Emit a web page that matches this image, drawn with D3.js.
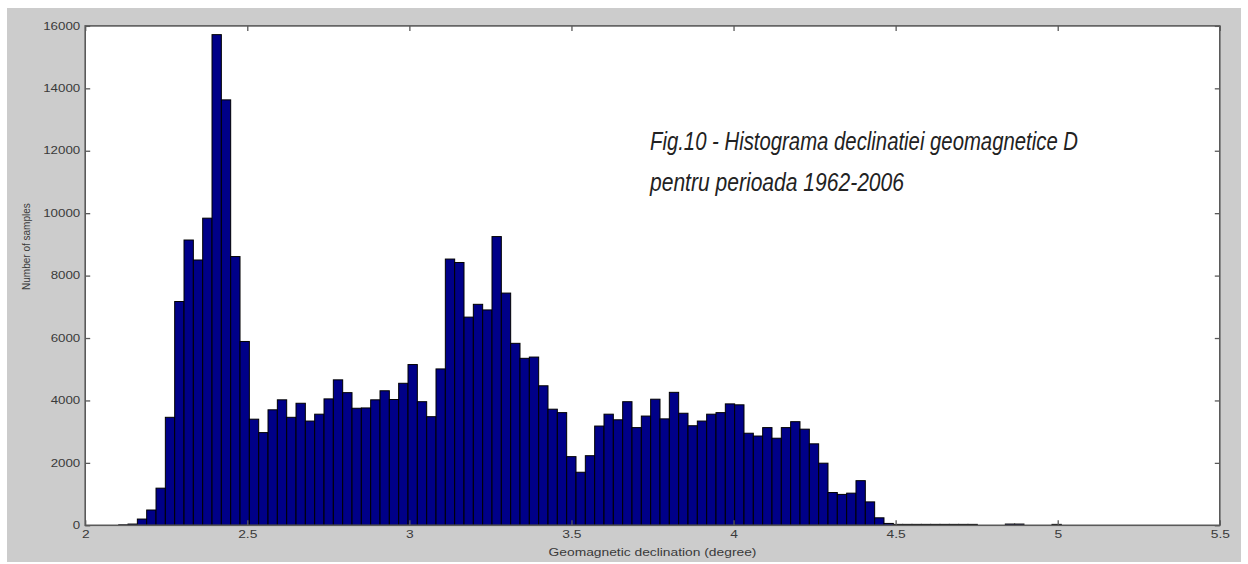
<!DOCTYPE html>
<html>
<head>
<meta charset="utf-8">
<script src="https://cdn.jsdelivr.net/npm/d3@7/dist/d3.min.js"></script>
<style>
  html, body { margin: 0; padding: 0; background: #ffffff; }
  svg { display: block; }
  .tick text { font-family: "Liberation Sans", Arial, sans-serif; }
</style>
</head>
<body>
<svg id="chart" width="1248" height="564"></svg>
<script>
// Histogram bins: first bin edge and bin width, in degrees
const binStart = 2.1033;
const binWidth = 0.02879;

// Number of samples per bin
const counts = [
  15, 40, 200, 490, 1190, 3460, 7170, 9140, 8500, 9840,
  15720, 13630, 8610, 5890, 3400, 2970, 3700, 4020, 3460, 3910,
  3340, 3560, 4050, 4660, 4250, 3750, 3760, 4020, 4310, 4030,
  4550, 5150, 3960, 3480, 5010, 8530, 8420, 6670, 7080, 6900,
  9250, 7440, 5830, 5350, 5390, 4470, 3720, 3610, 2200, 1700,
  2230, 3180, 3560, 3380, 3960, 3130, 3500, 4040, 3410, 4260,
  3590, 3190, 3340, 3560, 3610, 3890, 3860, 2950, 2860, 3130,
  2790, 3130, 3320, 3080, 2610, 1990, 1050, 990, 1030, 1430,
  750, 240, 60, 30, 30, 30, 30, 30, 30, 30,
  30, 30, 0, 0, 0, 40, 40, 0, 0, 0,
  30
];

// Axis ticks
const xTicks = [2, 2.5, 3, 3.5, 4, 4.5, 5, 5.5];
const yTicks = [0, 2000, 4000, 6000, 8000, 10000, 12000, 14000, 16000];

const titleLines = [
  "Fig.10 - Histograma declinatiei geomagnetice D",
  "pentru perioada 1962-2006"
];
const xLabel = "Geomagnetic declination (degree)";
const yLabel = "Number of samples";

const svg = d3.select("#chart");

// grey figure panel
svg.append("rect")
  .attr("x", 7).attr("y", 8)
  .attr("width", 1234).attr("height", 554)
  .attr("fill", "#cccccc");

const plot = { left: 85.2, right: 1219.8, top: 25.9, bottom: 525.3 };

const x = d3.scaleLinear().domain([2, 5.5]).range([plot.left, plot.right]);
const y = d3.scaleLinear().domain([0, 16000]).range([plot.bottom, plot.top]);

// white plotting area
svg.append("rect")
  .attr("x", plot.left).attr("y", plot.top)
  .attr("width", plot.right - plot.left)
  .attr("height", plot.bottom - plot.top)
  .attr("fill", "#ffffff");

// bars
const bins = counts.map((c, i) => ({ x0: binStart + i * binWidth, x1: binStart + (i + 1) * binWidth, n: c }))
  .filter(d => d.n > 0);

svg.append("g")
  .selectAll("rect")
  .data(bins)
  .join("rect")
  .attr("x", d => x(d.x0))
  .attr("width", d => x(d.x1) - x(d.x0))
  .attr("y", d => y(d.n))
  .attr("height", d => y(0) - y(d.n))
  .attr("fill", "#000088")
  .attr("stroke", "#000000")
  .attr("stroke-width", 1);

const axisColor = "#5a5a5a";
const labelColor = "#3a3a3a";

function styleAxis(g) {
  g.select(".domain").remove();
  g.selectAll(".tick line").attr("stroke", axisColor).attr("stroke-width", 1.3);
  g.selectAll(".tick text")
    .attr("fill", labelColor)
    .attr("font-size", 10);
}

// stretch labels horizontally
function widen(sel, factor) {
  sel.each(function () {
    const w = this.getComputedTextLength();
    d3.select(this).attr("textLength", w * factor).attr("lengthAdjust", "spacingAndGlyphs");
  });
}

const gx = svg.append("g")
  .attr("transform", `translate(0,${plot.bottom})`)
  .call(d3.axisBottom(x).tickValues(xTicks).tickFormat(d3.format("")).tickSize(-5).tickPadding(6));
styleAxis(gx);
widen(gx.selectAll(".tick text"), 1.38);

const gxTop = svg.append("g")
  .attr("transform", `translate(0,${plot.top})`)
  .call(d3.axisTop(x).tickValues(xTicks).tickFormat("").tickSize(-5));
styleAxis(gxTop);

const gy = svg.append("g")
  .attr("transform", `translate(${plot.left},0)`)
  .call(d3.axisLeft(y).tickValues(yTicks).tickFormat(d3.format("d")).tickSize(-5).tickPadding(5));
styleAxis(gy);
widen(gy.selectAll(".tick text"), 1.33);

const gyRight = svg.append("g")
  .attr("transform", `translate(${plot.right},0)`)
  .call(d3.axisRight(y).tickValues(yTicks).tickFormat("").tickSize(-5));
styleAxis(gyRight);

// plot frame
svg.append("rect")
  .attr("x", plot.left).attr("y", plot.top)
  .attr("width", plot.right - plot.left)
  .attr("height", plot.bottom - plot.top)
  .attr("fill", "none")
  .attr("stroke", axisColor)
  .attr("stroke-width", 1.6);

// axis titles
const xl = svg.append("text")
  .attr("x", (plot.left + plot.right) / 2)
  .attr("y", 556)
  .attr("text-anchor", "middle")
  .attr("font-family", "Liberation Sans, Arial, sans-serif")
  .attr("font-size", 10)
  .attr("fill", labelColor)
  .text(xLabel);
widen(xl, 1.38);

svg.append("text")
  .attr("transform", `translate(30,${(plot.top + plot.bottom) / 2 - 29}) rotate(-90)`)
  .attr("text-anchor", "middle")
  .attr("font-family", "Liberation Sans, Arial, sans-serif")
  .attr("font-size", 10)
  .attr("fill", labelColor)
  .text(yLabel);

// figure caption inside the plot
const capWidths = [428, 254];
const capY = [149.5, 190.5];
titleLines.forEach((t, i) => {
  svg.append("text")
    .attr("x", 650)
    .attr("y", capY[i])
    .attr("font-family", "Liberation Sans Narrow, Liberation Sans, Arial, sans-serif")
    .attr("font-style", "italic")
    .attr("font-size", 25)
    .attr("fill", "#222222")
    .attr("textLength", capWidths[i])
    .attr("lengthAdjust", "spacingAndGlyphs")
    .text(t);
});
</script>
</body>
</html>
